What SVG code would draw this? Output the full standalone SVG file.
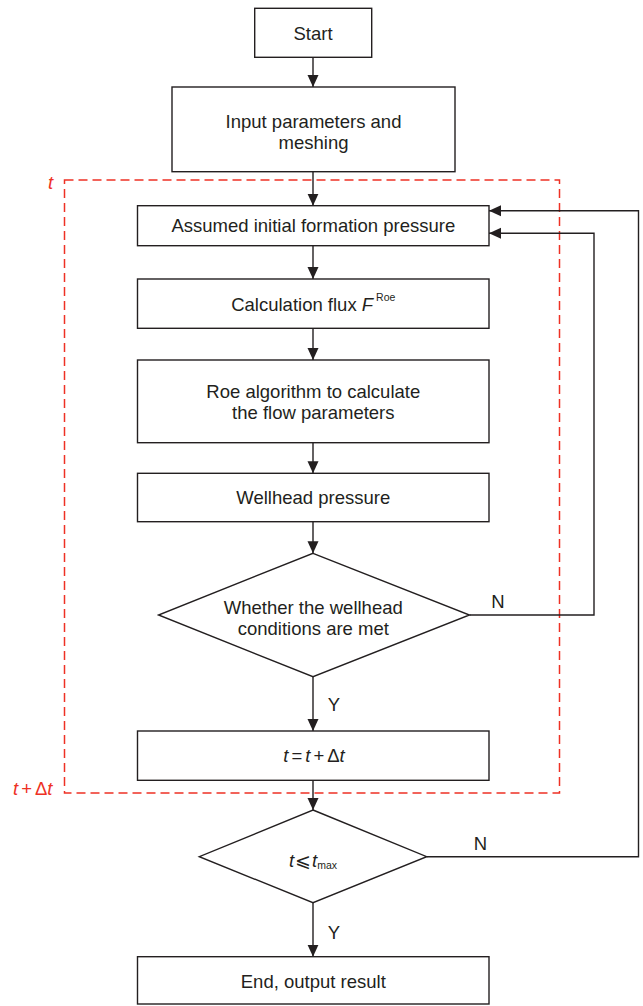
<svg xmlns="http://www.w3.org/2000/svg" width="643" height="1006" viewBox="0 0 643 1006">
<defs>
<style>
.box{fill:#fff;stroke:#231f20;stroke-width:1.4}
.t{font-family:"Liberation Sans",Arial,sans-serif;font-size:18.5px;fill:#231f20;text-anchor:middle}
.i{font-style:italic}
.sm{font-size:10.5px}
.line{fill:none;stroke:#231f20;stroke-width:1.4}
.red{fill:none;stroke:#ee3124;stroke-width:1.5;stroke-dasharray:9 5}
.rt{font-family:"Liberation Sans",Arial,sans-serif;font-size:18.5px;fill:#ee3124;font-style:italic}
</style>
<marker id="ah" viewBox="0 0 12 12" markerWidth="12" markerHeight="12" refX="12" refY="6" orient="auto" markerUnits="userSpaceOnUse">
<path d="M0,0.5 L12,6 L0,11.5 z" fill="#231f20"/>
</marker>
</defs>
<rect width="643" height="1006" fill="#fff"/>

<g id="loop-frame">
<rect class="red" x="64.5" y="180" width="495" height="613"/>
<text class="rt" x="48" y="189">t</text>
<text class="rt" x="13" y="795">t<tspan font-style="normal" dx="3">+</tspan><tspan font-style="normal" dx="3">Δ</tspan>t</text>
</g>

<g id="connectors">
<line class="line" x1="313" y1="57.5" x2="313" y2="87" marker-end="url(#ah)"/>
<line class="line" x1="313" y1="171.7" x2="313" y2="205.7" marker-end="url(#ah)"/>
<line class="line" x1="313" y1="245.7" x2="313" y2="279" marker-end="url(#ah)"/>
<line class="line" x1="313" y1="328.3" x2="313" y2="360" marker-end="url(#ah)"/>
<line class="line" x1="313" y1="442.7" x2="313" y2="473.3" marker-end="url(#ah)"/>
<line class="line" x1="313" y1="521.7" x2="313" y2="553.3" marker-end="url(#ah)"/>
<line class="line" x1="313" y1="676.7" x2="313" y2="731" marker-end="url(#ah)"/>
<line class="line" x1="313" y1="780.3" x2="313" y2="810" marker-end="url(#ah)"/>
<line class="line" x1="313" y1="902.7" x2="313" y2="956.7" marker-end="url(#ah)"/>
<polyline class="line" points="469.5,615 594,615 594,233.3 489,233.3" marker-end="url(#ah)"/>
<polyline class="line" points="426.7,856.7 638.5,856.7 638.5,210.7 489,210.7" marker-end="url(#ah)"/>
<text class="t" x="334" y="711">Y</text>
<text class="t" x="334" y="939">Y</text>
<text class="t" x="498" y="608">N</text>
<text class="t" x="480.5" y="850">N</text>
</g>

<g id="start">
<rect class="box" x="254.7" y="8.3" width="117" height="49"/>
<text class="t" x="313" y="39.5">Start</text>
</g>

<g id="input">
<rect class="box" x="172" y="87" width="283" height="84.7"/>
<text class="t" x="313.5" y="128">Input parameters and</text>
<text class="t" x="313.5" y="149">meshing</text>
</g>

<g id="assumed">
<rect class="box" x="137.5" y="205.7" width="351.5" height="40"/>
<text class="t" x="313.3" y="232.3">Assumed initial formation pressure</text>
</g>

<g id="flux">
<rect class="box" x="137.5" y="279" width="351.5" height="49.3"/>
<text class="t" x="313.3" y="310.5">Calculation flux <tspan class="i">F</tspan><tspan class="sm" dx="3" dy="-10">Roe</tspan></text>
</g>

<g id="roe">
<rect class="box" x="137.5" y="360" width="351.5" height="82.7"/>
<text class="t" x="313.3" y="397.5">Roe algorithm to calculate</text>
<text class="t" x="313.3" y="418.5">the flow parameters</text>
</g>

<g id="wellhead">
<rect class="box" x="137.5" y="473.3" width="351.5" height="48.4"/>
<text class="t" x="313.3" y="504">Wellhead pressure</text>
</g>

<g id="check-wellhead">
<polygon class="box" points="313,553.3 469.5,615 313,676.7 158.5,615"/>
<text class="t" x="313.3" y="614">Whether the wellhead</text>
<text class="t" x="313.3" y="635">conditions are met</text>
</g>

<g id="time-step">
<rect class="box" x="137.5" y="731" width="351.5" height="49.3"/>
<text class="t" x="314" y="762"><tspan class="i">t</tspan><tspan dx="3">=</tspan><tspan class="i" dx="3">t</tspan><tspan dx="3">+</tspan><tspan dx="3">Δ</tspan><tspan class="i">t</tspan></text>
</g>

<g id="check-time">
<polygon class="box" points="313,810 426.7,856.7 313,902.7 199.3,856.7"/>
<text class="t" x="313" y="866.5"><tspan class="i">t</tspan><tspan font-family="DejaVu Sans" font-size="19px" dx="1">⩽</tspan><tspan class="i" dx="1">t</tspan><tspan class="sm" dy="2">max</tspan></text>
</g>

<g id="end">
<rect class="box" x="137.5" y="956.7" width="351.5" height="47.3"/>
<text class="t" x="313.3" y="988">End, output result</text>
</g>
</svg>
